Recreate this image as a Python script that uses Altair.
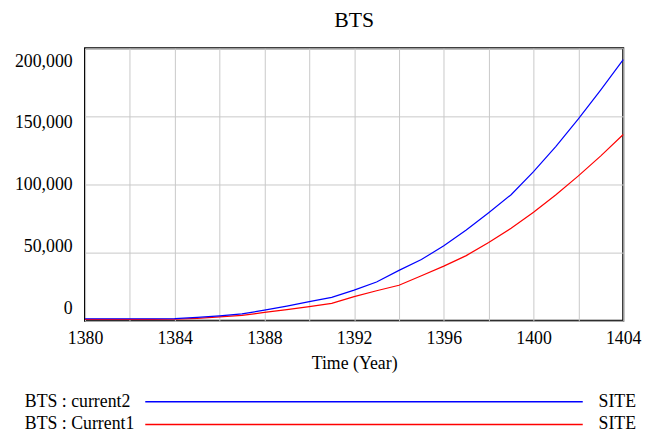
import altair as alt
import pandas as pd

years = list(range(1380, 1405))
current2 = [1500, 1500, 1500, 1500, 1600, 2500, 3600, 5000, 7800, 10800, 14000, 17200,
            22500, 28500, 37000, 44900, 55100, 66600, 79300, 92500, 109400, 128000,
            148100, 169500, 191600]
current1 = [1000, 1000, 1000, 1000, 1100, 1800, 2900, 4000, 6100, 8200, 10400, 12800,
            17700, 22000, 26100, 33000, 40100, 47800, 57500, 67900, 79700, 92500,
            106300, 121000, 136700]
series_names = ["current2", "Current1"]
legend_labels = ["BTS : current2", "BTS : Current1"]
colors = ["#0000ff", "#ff0000"]
y_ticks = [0, 50000, 100000, 150000, 200000]
x_grid = list(range(1380, 1405, 2))

rows = []
for yr, v in zip(years, current1):
    rows.append({"year": yr, "value": v, "series": "Current1"})
for yr, v in zip(years, current2):
    rows.append({"year": yr, "value": v, "series": "current2"})
df = pd.DataFrame(rows)

leg_df = pd.DataFrame({"label": legend_labels, "series": series_names, "unit": ["SITE", "SITE"]})

FONT = "Liberation Serif"
color_scale = alt.Scale(domain=series_names, range=colors)

lines = alt.Chart(df).mark_line(strokeWidth=1.2).encode(
    x=alt.X("year:Q",
            scale=alt.Scale(domain=[1380, 1404], nice=False, zero=False),
            axis=alt.Axis(values=x_grid,
                          labelExpr="datum.value % 4 == 0 ? format(datum.value, 'd') : ''",
                          labelFlush=False, labelOverlap=False, labelPadding=9,
                          title="Time (Year)", titlePadding=7)),
    y=alt.Y("value:Q",
            scale=alt.Scale(domain=[0, 200000], nice=False),
            axis=alt.Axis(values=y_ticks, title=None, labelPadding=13,
                          labelExpr="format(datum.value, ',d')",
                          labelFlush=False, labelOverlap=False,
                          labelOffset={"expr": "-12.7 + datum.value * 0.00013"})),
    color=alt.Color("series:N", scale=color_scale, legend=None),
    order=alt.Order("year:Q"),
)

leg_y = alt.Y("label:N", scale=alt.Scale(type="point", domain=legend_labels,
                                          range=[358, 381], padding=0), axis=None)

leg_text = alt.Chart(leg_df).mark_text(align="left", baseline="middle", font=FONT,
                                       fontSize=18, color="black").encode(
    x=alt.value(-61), y=leg_y, text="label:N")
leg_rule = alt.Chart(leg_df).mark_rule(strokeWidth=1.5).encode(
    x=alt.value(61), x2=alt.value(504), y=leg_y,
    color=alt.Color("series:N", scale=color_scale, legend=None))
leg_unit = alt.Chart(leg_df).mark_text(align="left", baseline="middle", font=FONT,
                                       fontSize=18, color="black").encode(
    x=alt.value(520), y=leg_y, text="unit:N")

chart = alt.layer(lines, leg_text, leg_rule, leg_unit).resolve_scale(
    y="independent"
).properties(
    width=545, height=276,
    title=alt.TitleParams("BTS", font=FONT, fontSize=22, fontWeight="normal",
                          color="black", anchor="middle", offset=16),
    autosize=alt.AutoSizeParams(type="none"),
    padding={"left": 78, "top": 38, "right": 19, "bottom": 117},
).configure_view(
    stroke="black", strokeWidth=2
).configure_axis(
    labelFont=FONT, titleFont=FONT, labelFontSize=18, titleFontSize=18,
    titleFontWeight="normal", labelColor="black", titleColor="black",
    gridColor="#c8c8c8", gridWidth=1, domain=False, ticks=False
)

chart.save("out.html", embed_options={"renderer": "svg", "actions": False})
